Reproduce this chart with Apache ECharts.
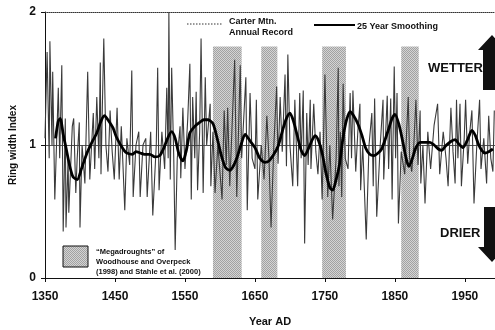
<!DOCTYPE html>
<html>
<head>
<meta charset="utf-8">
<script src="https://cdn.jsdelivr.net/npm/echarts@6/dist/echarts.min.js"></script>
<style>
  html, body { margin: 0; padding: 0; background: #fff; }
  #chart { width: 495px; height: 330px; }
</style>
</head>
<body>
<div id="chart"></div>
<script>
// Carter Mtn. annual ring width index
const annualYears = [
  1350, 1353, 1356, 1357, 1360, 1361, 1364, 1369, 1371, 1374, 1376, 1379, 1380, 1383, 1384, 1389,
  1391, 1394, 1396, 1399, 1400, 1403, 1407, 1411, 1414, 1419, 1421, 1424, 1427, 1429, 1430, 1432,
  1434, 1437, 1440, 1443, 1446, 1449, 1453, 1456, 1459, 1461, 1464, 1467, 1471, 1474, 1476, 1480,
  1484, 1486, 1490, 1494, 1496, 1501, 1504, 1509, 1511, 1513, 1517, 1521, 1524, 1526, 1527, 1529,
  1531, 1534, 1536, 1539, 1543, 1544, 1547, 1550, 1554, 1557, 1559, 1561, 1564, 1566, 1568, 1571,
  1573, 1576, 1579, 1581, 1586, 1587, 1590, 1593, 1597, 1603, 1606, 1609, 1611, 1614, 1617, 1621,
  1624, 1629, 1631, 1637, 1639, 1643, 1646, 1650, 1652, 1654, 1659, 1663, 1667, 1670, 1673, 1677,
  1681, 1683, 1686, 1689, 1693, 1695, 1697, 1700, 1704, 1707, 1711, 1714, 1716, 1719, 1721, 1724,
  1726, 1729, 1730, 1734, 1737, 1740, 1743, 1746, 1750, 1754, 1757, 1761, 1766, 1769, 1770, 1772,
  1774, 1776, 1779, 1783, 1786, 1788, 1790, 1794, 1797, 1800, 1801, 1804, 1809, 1813, 1817, 1819,
  1821, 1824, 1829, 1833, 1834, 1839, 1841, 1844, 1846, 1849, 1851, 1853, 1855, 1859, 1864, 1869,
  1871, 1874, 1877, 1880, 1883, 1886, 1887, 1890, 1893, 1897, 1901, 1906, 1911, 1914, 1919, 1923,
  1926, 1930, 1933, 1936, 1938, 1940, 1943, 1945, 1949, 1951, 1954, 1957, 1960, 1963, 1967, 1971,
  1973, 1977, 1981, 1984, 1987, 1990, 1992
];
const annualValues = [
  1.05, 1.70, 0.90, 1.78, 1.00, 1.55, 0.59, 1.43, 0.90, 1.60, 0.35, 1.20, 0.38, 0.90, 0.49, 1.14,
  1.20, 0.64, 0.90, 1.17, 0.38, 1.00, 0.71, 1.55, 0.74, 1.24, 0.82, 1.36, 0.90, 1.62, 0.78, 1.30,
  1.80, 1.00, 0.80, 1.26, 0.95, 0.74, 1.28, 0.74, 1.14, 0.90, 0.51, 1.05, 0.85, 1.56, 0.61, 1.00,
  1.10, 0.61, 1.00, 1.05, 0.61, 1.10, 0.47, 1.00, 1.58, 0.66, 1.10, 0.82, 1.43, 0.90, 2.00, 0.74,
  1.58, 0.90, 0.21, 0.90, 1.14, 0.75, 1.28, 0.82, 1.20, 1.61, 0.59, 1.36, 0.90, 1.40, 0.66, 1.10,
  1.80, 0.64, 1.51, 1.00, 1.31, 0.69, 1.10, 0.64, 1.00, 0.59, 1.26, 0.85, 1.28, 0.69, 1.10, 1.64,
  0.61, 1.60, 0.90, 1.51, 0.51, 1.39, 0.90, 0.82, 1.34, 0.59, 1.00, 0.74, 1.22, 0.90, 0.38, 1.00,
  1.44, 0.86, 1.36, 0.95, 1.53, 0.84, 1.68, 1.00, 0.69, 1.34, 0.69, 1.39, 0.90, 1.41, 0.26, 1.24,
  0.85, 1.34, 0.82, 1.31, 0.95, 0.78, 1.10, 0.59, 1.53, 0.61, 1.00, 0.44, 0.90, 1.58, 0.69, 1.10,
  0.61, 1.46, 0.90, 0.82, 1.39, 0.90, 1.41, 0.80, 1.10, 1.31, 0.66, 1.00, 0.29, 1.00, 1.24, 0.69,
  1.35, 0.46, 1.00, 1.34, 0.74, 1.37, 0.82, 1.35, 0.59, 1.59, 0.90, 1.39, 0.41, 0.95, 0.78, 1.36,
  0.90, 0.80, 1.00, 1.34, 0.85, 1.26, 0.71, 1.00, 0.56, 1.10, 0.82, 1.15, 1.31, 0.78, 1.10, 0.90,
  0.69, 1.28, 0.95, 0.71, 1.34, 0.90, 1.31, 0.69, 1.05, 1.34, 0.86, 1.10, 1.26, 0.56, 1.00, 1.34,
  0.82, 1.05, 0.71, 1.22, 0.90, 0.80, 1.26
];

// 25 year smoothing
const smoothYears = [
  1365, 1369, 1372, 1376, 1380, 1385, 1390, 1396, 1402, 1410, 1417, 1424, 1430, 1435, 1441, 1447,
  1452, 1457, 1463, 1467, 1475, 1480, 1486, 1492, 1500, 1507, 1514, 1520, 1526, 1531, 1536, 1541,
  1547, 1552, 1557, 1564, 1571, 1577, 1583, 1590, 1596, 1602, 1608, 1614, 1619, 1624, 1630, 1636,
  1643, 1650, 1657, 1664, 1670, 1677, 1683, 1690, 1695, 1700, 1705, 1711, 1716, 1721, 1727, 1732,
  1736, 1741, 1746, 1751, 1757, 1761, 1766, 1771, 1776, 1781, 1786, 1791, 1797, 1803, 1808, 1814,
  1820, 1826, 1831, 1836, 1841, 1846, 1850, 1856, 1861, 1866, 1870, 1875, 1880, 1886, 1893, 1900,
  1906, 1912, 1917, 1922, 1926, 1931, 1936, 1941, 1947, 1953, 1960, 1965, 1969, 1974, 1979, 1984,
  1990
];
const smoothValues = [
  1.05, 1.18, 1.20, 1.08, 0.98, 0.85, 0.76, 0.74, 0.82, 0.94, 1.02, 1.09, 1.18, 1.22, 1.18, 1.13,
  1.06, 1.01, 0.96, 0.94, 0.93, 0.95, 0.94, 0.93, 0.93, 0.91, 0.92, 0.98, 1.06, 1.10, 1.05, 0.94,
  0.88, 0.96, 1.09, 1.14, 1.17, 1.19, 1.19, 1.16, 1.05, 0.92, 0.83, 0.81, 0.84, 0.90, 1.00, 1.08,
  1.03, 0.98, 0.90, 0.87, 0.88, 0.93, 0.99, 1.12, 1.20, 1.24, 1.18, 1.06, 0.96, 0.92, 0.98, 1.04,
  1.07, 1.03, 0.94, 0.80, 0.68, 0.66, 0.74, 0.86, 1.06, 1.19, 1.25, 1.22, 1.16, 1.07, 0.98, 0.93,
  0.92, 0.94, 0.97, 1.04, 1.12, 1.20, 1.23, 1.15, 1.03, 0.90, 0.84, 0.90, 0.98, 1.02, 1.02, 1.02,
  1.00, 0.97, 0.96, 0.99, 1.01, 1.03, 1.04, 1.01, 0.98, 1.03, 1.11, 1.07, 1.01, 0.96, 0.94, 0.95,
  0.97
];

// Megadrought periods (Woodhouse & Overpeck 1998, Stahle et al. 2000)
const droughtStart = [1590, 1659, 1746, 1859];
const droughtEnd = [1631, 1682, 1780, 1884];
const droughtTop = 1.74;

const yearTicks = [1350, 1450, 1550, 1650, 1750, 1850, 1950];
const indexTicks = [0, 1, 2];

const FONT = 'Liberation Sans, Arial, sans-serif';

// fine grey dot screen used for the drought bands
function stipple() {
  const c = document.createElement('canvas');
  c.width = 2;
  c.height = 2;
  const g = c.getContext('2d');
  g.fillStyle = '#d4d4d4';
  g.fillRect(0, 0, 2, 2);
  g.fillStyle = '#a2a2a2';
  g.fillRect(0, 0, 1, 1);
  g.fillRect(1, 1, 1, 1);
  return c;
}
const pattern = { image: stipple(), repeat: 'repeat' };

const chart = echarts.init(document.getElementById('chart'), null, { renderer: 'canvas' });

const txt = (x, y, text, size, extra) => ({
  type: 'text', x, y,
  style: Object.assign({ text, fill: '#111', font: `bold ${size}px ${FONT}`, textVerticalAlign: 'middle' }, extra || {})
});

const option = {
  animation: false,
  backgroundColor: '#fff',
  grid: { left: 45, right: 0, top: 12, bottom: 52, outerBoundsMode: 'none', containLabel: false },
  xAxis: [
    {
      type: 'value',
      min: 1350,
      max: 1993,
      name: 'Year AD',
      nameLocation: 'middle',
      nameGap: 38,
      nameTextStyle: { fontFamily: FONT, fontWeight: 'bold', fontSize: 11, color: '#111' },
      axisLine: { show: true, lineStyle: { color: '#111', width: 1 } },
      axisTick: { show: true, length: 4, customValues: yearTicks, lineStyle: { color: '#111' } },
      axisLabel: {
        customValues: yearTicks,
        margin: 13,
        fontFamily: FONT, fontWeight: 'bold', fontSize: 12, color: '#111',
        formatter: v => String(v)
      },
      splitLine: { show: false }
    },
    {
      type: 'value',
      position: 'top',
      min: 1350,
      max: 1993,
      axisLine: { show: true, lineStyle: { color: '#333', width: 1, type: 'dotted' } },
      axisTick: { show: false },
      axisLabel: { show: false },
      splitLine: { show: false }
    }
  ],
  yAxis: {
    type: 'value',
    min: 0,
    max: 2,
    interval: 1,
    name: 'Ring width Index',
    nameLocation: 'middle',
    nameGap: 19,
    nameTextStyle: { fontFamily: FONT, fontWeight: 'bold', fontSize: 10, color: '#111' },
    axisLine: { show: true, lineStyle: { color: '#111', width: 1 } },
    axisTick: { show: true, length: 4, lineStyle: { color: '#111' } },
    axisLabel: {
      customValues: indexTicks,
      margin: 9,
      fontFamily: FONT, fontWeight: 'bold', fontSize: 12, color: '#111'
    },
    splitLine: { show: true, lineStyle: { color: ['transparent', '#555', 'transparent'], width: 1 } }
  },
  series: [
    {
      name: 'Megadroughts',
      type: 'line',
      data: [],
      silent: true,
      markArea: {
        silent: true,
        itemStyle: { color: pattern, opacity: 1 },
        data: droughtStart.map((s, i) => [
          { xAxis: s, yAxis: 0 },
          { xAxis: droughtEnd[i], yAxis: droughtTop }
        ])
      }
    },
    {
      name: 'Carter Mtn. Annual Record',
      type: 'line',
      data: annualYears.map((y, i) => [y, annualValues[i]]),
      showSymbol: false,
      lineStyle: { color: '#3a3a3a', width: 1.1 },
      z: 3
    },
    {
      name: '25 Year Smoothing',
      type: 'line',
      data: smoothYears.map((y, i) => [y, smoothValues[i]]),
      showSymbol: false,
      smooth: 0.25,
      lineStyle: { color: '#000', width: 2.8 },
      z: 4
    }
  ],
  graphic: [
    // legend: annual record
    { type: 'line', shape: { x1: 187, y1: 24, x2: 223, y2: 24 }, style: { stroke: '#333', lineWidth: 1, lineDash: [1.5, 1.5] } },
    txt(229, 22, 'Carter Mtn.', 9),
    txt(229, 33, 'Annual Record', 9),
    // legend: smoothing
    { type: 'line', shape: { x1: 314, y1: 25, x2: 355, y2: 25 }, style: { stroke: '#000', lineWidth: 2 } },
    txt(357, 27, '25 Year Smoothing', 9),
    // legend: megadroughts
    { type: 'rect', shape: { x: 63, y: 246, width: 25, height: 21 }, style: { fill: pattern, stroke: '#111', lineWidth: 1 } },
    txt(96, 252, '\u201cMegadroughts\u201d of', 7.5),
    txt(96, 262, 'Woodhouse and Overpeck', 7.5),
    txt(96, 272, '(1998) and Stahle et al. (2000)', 7.5),
    // wetter / drier
    txt(428, 68, 'WETTER', 13),
    { type: 'polygon', shape: { points: [[483, 90], [483, 50], [478, 50], [492, 35], [506, 50], [501, 50], [501, 90]] }, style: { fill: '#111' } },
    txt(440, 233, 'DRIER', 13),
    { type: 'polygon', shape: { points: [[484, 207], [484, 247], [478, 247], [492, 262], [506, 247], [501, 247], [501, 207]] }, style: { fill: '#111' } }
  ]
};

chart.setOption(option);
</script>
</body>
</html>
